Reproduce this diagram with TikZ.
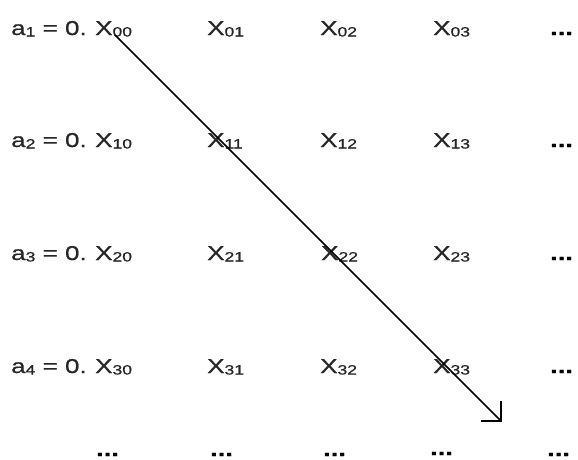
\documentclass[tikz,border=0pt]{standalone}
\usepackage{fontspec}
\setmainfont{Liberation Sans}[FakeStretch=1.3,FakeBold=0.8]
\usetikzlibrary{arrows.meta}
\newcommand\mysub[1]{\raisebox{-1.5pt}{\fontsize{13.5}{13.5}\selectfont #1}}
\begin{document}
\begin{tikzpicture}[x=1pt,y=-1pt,
  txt/.style={inner sep=0pt,anchor=base west,text=black!85,font=\fontsize{20}{20}\selectfont},
  dts/.style={txt,text=black,font=\fontsize{21}{21}\selectfont\bfseries},
  diag/.style={line width=1.6pt,-{Straight Barb[length=14pt,width=28pt,line width=1.6pt]}}]
\useasboundingbox (0,0) rectangle (578,459);
% row labels
\node[txt] (a1) at (11,35)  {a\mysub{1} = 0.};
\node[txt] (a2) at (11,147) {a\mysub{2} = 0.};
\node[txt] (a3) at (11,260) {a\mysub{3} = 0.};
\node[txt] (a4) at (11,373) {a\mysub{4} = 0.};
% row 0
\node[txt] (x00) at (95,35)  {X\mysub{00}};
\node[txt] (x01) at (207,35) {X\mysub{01}};
\node[txt] (x02) at (320,35) {X\mysub{02}};
\node[txt] (x03) at (433,35) {X\mysub{03}};
\node[dts] (d0) at (550,35) {...};
% row 1
\node[txt] (x10) at (95,147)  {X\mysub{10}};
\node[txt] (x11) at (207,147) {X\mysub{11}};
\node[txt] (x12) at (320,147) {X\mysub{12}};
\node[txt] (x13) at (433,147) {X\mysub{13}};
\node[dts] (d1) at (550,147) {...};
% row 2
\node[txt] (x20) at (95,260)  {X\mysub{20}};
\node[txt] (x21) at (207,260) {X\mysub{21}};
\node[txt] (x22) at (321,260) {X\mysub{22}};
\node[txt] (x23) at (433,260) {X\mysub{23}};
\node[dts] (d2) at (550,260) {...};
% row 3
\node[txt] (x30) at (95,373)  {X\mysub{30}};
\node[txt] (x31) at (207,373) {X\mysub{31}};
\node[txt] (x32) at (320,373) {X\mysub{32}};
\node[txt] (x33) at (433,373) {X\mysub{33}};
\node[dts] (d3) at (550,373) {...};
% bottom row
\node[dts] (b0) at (96,456)  {...};
\node[dts] (b1) at (210,456) {...};
\node[dts] (b2) at (323,456) {...};
\node[dts] (b3) at (430,455) {...};
\node[dts] (b4) at (547,456) {...};
% diagonal arrow
\coordinate (tip) at (502,422);
\draw[diag] ([xshift=20pt]x00.base west) -- (tip);
\end{tikzpicture}
\end{document}
